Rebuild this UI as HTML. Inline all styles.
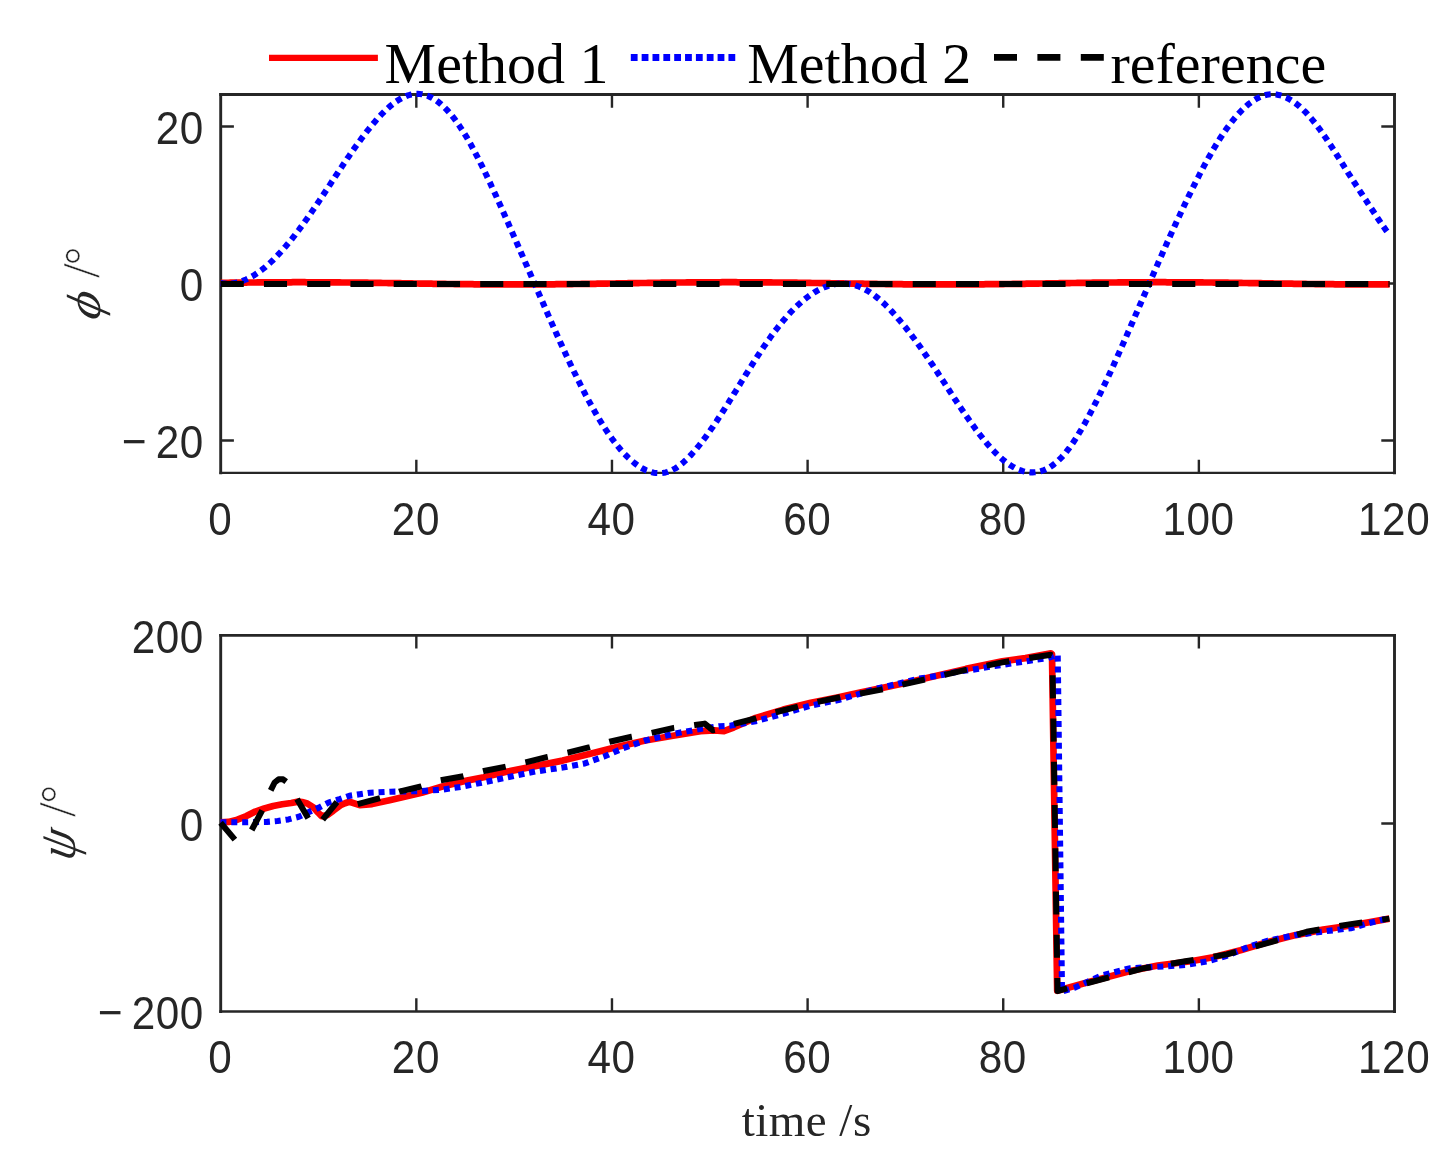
<!DOCTYPE html>
<html lang="en"><head><meta charset="utf-8"><title>Method comparison</title>
<style>html,body{margin:0;padding:0;background:#fff}svg{display:block}</style></head>
<body>
<svg width="1451" height="1155" viewBox="0 0 1451 1155">
<rect width="1451" height="1155" fill="#fff"/>
<path d="M220.70 94.50 V472.90 M1394.50 94.50 V472.90" fill="none" stroke="#262626" stroke-width="2.9" stroke-linecap="square"/>
<path d="M220.70 94.50 H1394.50" fill="none" stroke="#262626" stroke-width="2.8" stroke-linecap="square"/>
<path d="M220.70 472.90 H1394.50" fill="none" stroke="#262626" stroke-width="2.3" stroke-linecap="square"/>
<path d="M220.70 635.40 V1011.50 M1394.50 635.40 V1011.50" fill="none" stroke="#262626" stroke-width="2.9" stroke-linecap="square"/>
<path d="M220.70 635.40 H1394.50" fill="none" stroke="#262626" stroke-width="2.8" stroke-linecap="square"/>
<path d="M220.70 1011.50 H1394.50" fill="none" stroke="#262626" stroke-width="2.7" stroke-linecap="square"/>
<path d="M416.33 472.90 v-13.20 M416.33 94.50 v13.20 M416.33 1011.50 v-13.20 M416.33 635.40 v13.20 M611.97 472.90 v-13.20 M611.97 94.50 v13.20 M611.97 1011.50 v-13.20 M611.97 635.40 v13.20 M807.60 472.90 v-13.20 M807.60 94.50 v13.20 M807.60 1011.50 v-13.20 M807.60 635.40 v13.20 M1003.23 472.90 v-13.20 M1003.23 94.50 v13.20 M1003.23 1011.50 v-13.20 M1003.23 635.40 v13.20 M1198.87 472.90 v-13.20 M1198.87 94.50 v13.20 M1198.87 1011.50 v-13.20 M1198.87 635.40 v13.20 M220.70 440.50 h13.20 M1394.50 440.50 h-13.20 M220.70 283.50 h13.20 M1394.50 283.50 h-13.20 M220.70 126.50 h13.20 M1394.50 126.50 h-13.20 M220.70 823.45 h13.20 M1394.50 823.45 h-13.20" fill="none" stroke="#262626" stroke-width="2.4"/>
<path d="M220.7 282.9 L222.7 282.9 L224.6 282.8 L226.6 282.8 L228.5 282.8 L230.5 282.7 L232.4 282.7 L234.4 282.7 L236.3 282.7 L238.3 282.6 L240.2 282.6 L242.2 282.6 L244.1 282.6 L246.1 282.6 L248.0 282.5 L250.0 282.5 L251.9 282.5 L253.9 282.5 L255.8 282.5 L257.8 282.4 L259.7 282.4 L261.7 282.4 L263.6 282.4 L265.6 282.4 L267.5 282.4 L269.5 282.3 L271.4 282.3 L273.4 282.3 L275.3 282.3 L277.3 282.3 L279.2 282.3 L281.2 282.3 L283.1 282.3 L285.1 282.3 L287.0 282.3 L289.0 282.3 L291.0 282.3 L292.9 282.2 L294.9 282.2 L296.8 282.2 L298.8 282.2 L300.7 282.2 L302.7 282.2 L304.6 282.2 L306.6 282.3 L308.5 282.3 L310.5 282.3 L312.4 282.3 L314.4 282.3 L316.3 282.3 L318.3 282.3 L320.2 282.3 L322.2 282.3 L324.1 282.3 L326.1 282.3 L328.0 282.3 L330.0 282.4 L331.9 282.4 L333.9 282.4 L335.8 282.4 L337.8 282.4 L339.7 282.4 L341.7 282.5 L343.6 282.5 L345.6 282.5 L347.5 282.5 L349.5 282.5 L351.4 282.6 L353.4 282.6 L355.3 282.6 L357.3 282.6 L359.3 282.6 L361.2 282.7 L363.2 282.7 L365.1 282.7 L367.1 282.7 L369.0 282.8 L371.0 282.8 L372.9 282.8 L374.9 282.9 L376.8 282.9 L378.8 282.9 L380.7 282.9 L382.7 283.0 L384.6 283.0 L386.6 283.0 L388.5 283.1 L390.5 283.1 L392.4 283.1 L394.4 283.1 L396.3 283.2 L398.3 283.2 L400.2 283.2 L402.2 283.3 L404.1 283.3 L406.1 283.3 L408.0 283.4 L410.0 283.4 L411.9 283.4 L413.9 283.5 L415.8 283.5 L417.8 283.5 L419.7 283.6 L421.7 283.6 L423.6 283.6 L425.6 283.6 L427.6 283.7 L429.5 283.7 L431.5 283.7 L433.4 283.8 L435.4 283.8 L437.3 283.8 L439.3 283.8 L441.2 283.9 L443.2 283.9 L445.1 283.9 L447.1 284.0 L449.0 284.0 L451.0 284.0 L452.9 284.0 L454.9 284.1 L456.8 284.1 L458.8 284.1 L460.7 284.1 L462.7 284.1 L464.6 284.2 L466.6 284.2 L468.5 284.2 L470.5 284.2 L472.4 284.2 L474.4 284.3 L476.3 284.3 L478.3 284.3 L480.2 284.3 L482.2 284.3 L484.1 284.3 L486.1 284.4 L488.0 284.4 L490.0 284.4 L491.9 284.4 L493.9 284.4 L495.9 284.4 L497.8 284.4 L499.8 284.4 L501.7 284.4 L503.7 284.4 L505.6 284.4 L507.6 284.4 L509.5 284.4 L511.5 284.4 L513.4 284.4 L515.4 284.4 L517.3 284.4 L519.3 284.4 L521.2 284.4 L523.2 284.4 L525.1 284.4 L527.1 284.4 L529.0 284.4 L531.0 284.4 L532.9 284.4 L534.9 284.4 L536.8 284.4 L538.8 284.4 L540.7 284.4 L542.7 284.3 L544.6 284.3 L546.6 284.3 L548.5 284.3 L550.5 284.3 L552.4 284.3 L554.4 284.3 L556.3 284.2 L558.3 284.2 L560.2 284.2 L562.2 284.2 L564.2 284.2 L566.1 284.1 L568.1 284.1 L570.0 284.1 L572.0 284.1 L573.9 284.0 L575.9 284.0 L577.8 284.0 L579.8 284.0 L581.7 283.9 L583.7 283.9 L585.6 283.9 L587.6 283.9 L589.5 283.8 L591.5 283.8 L593.4 283.8 L595.4 283.8 L597.3 283.7 L599.3 283.7 L601.2 283.7 L603.2 283.6 L605.1 283.6 L607.1 283.6 L609.0 283.5 L611.0 283.5 L612.9 283.5 L614.9 283.5 L616.8 283.4 L618.8 283.4 L620.7 283.4 L622.7 283.3 L624.6 283.3 L626.6 283.3 L628.5 283.2 L630.5 283.2 L632.5 283.2 L634.4 283.1 L636.4 283.1 L638.3 283.1 L640.3 283.0 L642.2 283.0 L644.2 283.0 L646.1 283.0 L648.1 282.9 L650.0 282.9 L652.0 282.9 L653.9 282.8 L655.9 282.8 L657.8 282.8 L659.8 282.8 L661.7 282.7 L663.7 282.7 L665.6 282.7 L667.6 282.7 L669.5 282.6 L671.5 282.6 L673.4 282.6 L675.4 282.6 L677.3 282.5 L679.3 282.5 L681.2 282.5 L683.2 282.5 L685.1 282.5 L687.1 282.4 L689.0 282.4 L691.0 282.4 L692.9 282.4 L694.9 282.4 L696.8 282.4 L698.8 282.4 L700.8 282.3 L702.7 282.3 L704.7 282.3 L706.6 282.3 L708.6 282.3 L710.5 282.3 L712.5 282.3 L714.4 282.3 L716.4 282.3 L718.3 282.3 L720.3 282.3 L722.2 282.2 L724.2 282.2 L726.1 282.2 L728.1 282.2 L730.0 282.2 L732.0 282.2 L733.9 282.2 L735.9 282.2 L737.8 282.3 L739.8 282.3 L741.7 282.3 L743.7 282.3 L745.6 282.3 L747.6 282.3 L749.5 282.3 L751.5 282.3 L753.4 282.3 L755.4 282.3 L757.3 282.3 L759.3 282.3 L761.2 282.4 L763.2 282.4 L765.2 282.4 L767.1 282.4 L769.1 282.4 L771.0 282.4 L773.0 282.5 L774.9 282.5 L776.9 282.5 L778.8 282.5 L780.8 282.5 L782.7 282.6 L784.7 282.6 L786.6 282.6 L788.6 282.6 L790.5 282.7 L792.5 282.7 L794.4 282.7 L796.4 282.7 L798.3 282.8 L800.3 282.8 L802.2 282.8 L804.2 282.8 L806.1 282.9 L808.1 282.9 L810.0 282.9 L812.0 283.0 L813.9 283.0 L815.9 283.0 L817.8 283.0 L819.8 283.1 L821.7 283.1 L823.7 283.1 L825.6 283.2 L827.6 283.2 L829.5 283.2 L831.5 283.3 L833.5 283.3 L835.4 283.3 L837.4 283.3 L839.3 283.4 L841.3 283.4 L843.2 283.4 L845.2 283.5 L847.1 283.5 L849.1 283.5 L851.0 283.6 L853.0 283.6 L854.9 283.6 L856.9 283.7 L858.8 283.7 L860.8 283.7 L862.7 283.7 L864.7 283.8 L866.6 283.8 L868.6 283.8 L870.5 283.9 L872.5 283.9 L874.4 283.9 L876.4 283.9 L878.3 284.0 L880.3 284.0 L882.2 284.0 L884.2 284.0 L886.1 284.1 L888.1 284.1 L890.0 284.1 L892.0 284.1 L893.9 284.2 L895.9 284.2 L897.8 284.2 L899.8 284.2 L901.8 284.2 L903.7 284.3 L905.7 284.3 L907.6 284.3 L909.6 284.3 L911.5 284.3 L913.5 284.3 L915.4 284.3 L917.4 284.4 L919.3 284.4 L921.3 284.4 L923.2 284.4 L925.2 284.4 L927.1 284.4 L929.1 284.4 L931.0 284.4 L933.0 284.4 L934.9 284.4 L936.9 284.4 L938.8 284.4 L940.8 284.4 L942.7 284.4 L944.7 284.4 L946.6 284.4 L948.6 284.4 L950.5 284.4 L952.5 284.4 L954.4 284.4 L956.4 284.4 L958.3 284.4 L960.3 284.4 L962.2 284.4 L964.2 284.4 L966.1 284.4 L968.1 284.4 L970.1 284.4 L972.0 284.4 L974.0 284.3 L975.9 284.3 L977.9 284.3 L979.8 284.3 L981.8 284.3 L983.7 284.3 L985.7 284.2 L987.6 284.2 L989.6 284.2 L991.5 284.2 L993.5 284.2 L995.4 284.2 L997.4 284.1 L999.3 284.1 L1001.3 284.1 L1003.2 284.1 L1005.2 284.0 L1007.1 284.0 L1009.1 284.0 L1011.0 284.0 L1013.0 283.9 L1014.9 283.9 L1016.9 283.9 L1018.8 283.9 L1020.8 283.8 L1022.7 283.8 L1024.7 283.8 L1026.6 283.7 L1028.6 283.7 L1030.5 283.7 L1032.5 283.7 L1034.4 283.6 L1036.4 283.6 L1038.4 283.6 L1040.3 283.5 L1042.3 283.5 L1044.2 283.5 L1046.2 283.4 L1048.1 283.4 L1050.1 283.4 L1052.0 283.3 L1054.0 283.3 L1055.9 283.3 L1057.9 283.3 L1059.8 283.2 L1061.8 283.2 L1063.7 283.2 L1065.7 283.1 L1067.6 283.1 L1069.6 283.1 L1071.5 283.0 L1073.5 283.0 L1075.4 283.0 L1077.4 282.9 L1079.3 282.9 L1081.3 282.9 L1083.2 282.9 L1085.2 282.8 L1087.1 282.8 L1089.1 282.8 L1091.0 282.8 L1093.0 282.7 L1094.9 282.7 L1096.9 282.7 L1098.8 282.7 L1100.8 282.6 L1102.7 282.6 L1104.7 282.6 L1106.7 282.6 L1108.6 282.5 L1110.6 282.5 L1112.5 282.5 L1114.5 282.5 L1116.4 282.5 L1118.4 282.4 L1120.3 282.4 L1122.3 282.4 L1124.2 282.4 L1126.2 282.4 L1128.1 282.4 L1130.1 282.3 L1132.0 282.3 L1134.0 282.3 L1135.9 282.3 L1137.9 282.3 L1139.8 282.3 L1141.8 282.3 L1143.7 282.3 L1145.7 282.3 L1147.6 282.3 L1149.6 282.3 L1151.5 282.3 L1153.5 282.2 L1155.4 282.2 L1157.4 282.2 L1159.3 282.2 L1161.3 282.2 L1163.2 282.2 L1165.2 282.2 L1167.1 282.3 L1169.1 282.3 L1171.0 282.3 L1173.0 282.3 L1175.0 282.3 L1176.9 282.3 L1178.9 282.3 L1180.8 282.3 L1182.8 282.3 L1184.7 282.3 L1186.7 282.3 L1188.6 282.3 L1190.6 282.4 L1192.5 282.4 L1194.5 282.4 L1196.4 282.4 L1198.4 282.4 L1200.3 282.4 L1202.3 282.4 L1204.2 282.5 L1206.2 282.5 L1208.1 282.5 L1210.1 282.5 L1212.0 282.5 L1214.0 282.6 L1215.9 282.6 L1217.9 282.6 L1219.8 282.6 L1221.8 282.7 L1223.7 282.7 L1225.7 282.7 L1227.6 282.7 L1229.6 282.8 L1231.5 282.8 L1233.5 282.8 L1235.4 282.8 L1237.4 282.9 L1239.3 282.9 L1241.3 282.9 L1243.3 283.0 L1245.2 283.0 L1247.2 283.0 L1249.1 283.1 L1251.1 283.1 L1253.0 283.1 L1255.0 283.1 L1256.9 283.2 L1258.9 283.2 L1260.8 283.2 L1262.8 283.3 L1264.7 283.3 L1266.7 283.3 L1268.6 283.4 L1270.6 283.4 L1272.5 283.4 L1274.5 283.5 L1276.4 283.5 L1278.4 283.5 L1280.3 283.6 L1282.3 283.6 L1284.2 283.6 L1286.2 283.6 L1288.1 283.7 L1290.1 283.7 L1292.0 283.7 L1294.0 283.8 L1295.9 283.8 L1297.9 283.8 L1299.8 283.8 L1301.8 283.9 L1303.7 283.9 L1305.7 283.9 L1307.6 284.0 L1309.6 284.0 L1311.6 284.0 L1313.5 284.0 L1315.5 284.1 L1317.4 284.1 L1319.4 284.1 L1321.3 284.1 L1323.3 284.1 L1325.2 284.2 L1327.2 284.2 L1329.1 284.2 L1331.1 284.2 L1333.0 284.2 L1335.0 284.3 L1336.9 284.3 L1338.9 284.3 L1340.8 284.3 L1342.8 284.3 L1344.7 284.3 L1346.7 284.3 L1348.6 284.4 L1350.6 284.4 L1352.5 284.4 L1354.5 284.4 L1356.4 284.4 L1358.4 284.4 L1360.3 284.4 L1362.3 284.4 L1364.2 284.4 L1366.2 284.4 L1368.1 284.4 L1370.1 284.4 L1372.0 284.4 L1374.0 284.4 L1375.9 284.4 L1377.9 284.4 L1379.9 284.4 L1381.8 284.4 L1383.8 284.4 L1385.7 284.4 L1387.7 284.4 L1389.6 284.4" fill="none" stroke="#ff0000" stroke-width="6.7" stroke-linejoin="round"/>
<path d="M220.7 283.0 L222.7 283.3 L224.6 283.5 L226.6 283.7 L228.5 283.7 L230.5 283.6 L232.4 283.4 L234.4 283.1 L236.3 282.7 L238.3 282.3 L240.2 281.7 L242.2 281.1 L244.1 280.3 L246.1 279.5 L248.0 278.6 L250.0 277.6 L251.9 276.5 L253.9 275.4 L255.8 274.1 L257.8 272.8 L259.7 271.4 L261.7 269.9 L263.6 268.4 L265.6 266.8 L267.5 265.1 L269.5 263.4 L271.4 261.6 L273.4 259.7 L275.3 257.7 L277.3 255.7 L279.2 253.7 L281.2 251.5 L283.1 249.4 L285.1 247.1 L287.0 244.8 L289.0 242.5 L291.0 240.1 L292.9 237.7 L294.9 235.2 L296.8 232.6 L298.8 230.0 L300.7 227.4 L302.7 224.8 L304.6 222.1 L306.6 219.3 L308.5 216.5 L310.5 213.7 L312.4 210.9 L314.4 208.0 L316.3 205.2 L318.3 202.3 L320.2 199.4 L322.2 196.4 L324.1 193.5 L326.1 190.5 L328.0 187.6 L330.0 184.6 L331.9 181.6 L333.9 178.7 L335.8 175.7 L337.8 172.8 L339.7 169.8 L341.7 166.9 L343.6 164.0 L345.6 161.1 L347.5 158.2 L349.5 155.4 L351.4 152.6 L353.4 149.8 L355.3 147.0 L357.3 144.3 L359.3 141.6 L361.2 138.9 L363.2 136.3 L365.1 133.7 L367.1 131.2 L369.0 128.8 L371.0 126.3 L372.9 124.0 L374.9 121.7 L376.8 119.4 L378.8 117.3 L380.7 115.2 L382.7 113.2 L384.6 111.2 L386.6 109.4 L388.5 107.6 L390.5 105.9 L392.4 104.3 L394.4 102.8 L396.3 101.4 L398.3 100.1 L400.2 99.0 L402.2 97.9 L404.1 97.0 L406.1 96.1 L408.0 95.4 L410.0 94.8 L411.9 94.4 L413.9 94.1 L415.8 93.9 L417.8 93.9 L419.7 94.0 L421.7 94.2 L423.6 94.6 L425.6 95.2 L427.6 95.8 L429.5 96.7 L431.5 97.6 L433.4 98.7 L435.4 99.9 L437.3 101.3 L439.3 102.8 L441.2 104.4 L443.2 106.2 L445.1 108.1 L447.1 110.1 L449.0 112.2 L451.0 114.5 L452.9 116.9 L454.9 119.4 L456.8 122.1 L458.8 124.9 L460.7 127.8 L462.7 130.8 L464.6 133.9 L466.6 137.1 L468.5 140.5 L470.5 143.9 L472.4 147.5 L474.4 151.1 L476.3 154.8 L478.3 158.6 L480.2 162.5 L482.2 166.4 L484.1 170.4 L486.1 174.5 L488.0 178.6 L490.0 182.7 L491.9 187.0 L493.9 191.2 L495.9 195.5 L497.8 199.8 L499.8 204.2 L501.7 208.6 L503.7 213.0 L505.6 217.4 L507.6 221.8 L509.5 226.2 L511.5 230.7 L513.4 235.1 L515.4 239.6 L517.3 244.0 L519.3 248.5 L521.2 253.0 L523.2 257.5 L525.1 262.0 L527.1 266.4 L529.0 270.9 L531.0 275.4 L532.9 279.9 L534.9 284.4 L536.8 288.9 L538.8 293.4 L540.7 297.9 L542.7 302.3 L544.6 306.8 L546.6 311.3 L548.5 315.7 L550.5 320.2 L552.4 324.6 L554.4 329.0 L556.3 333.4 L558.3 337.7 L560.2 342.1 L562.2 346.4 L564.2 350.7 L566.1 354.9 L568.1 359.1 L570.0 363.3 L572.0 367.4 L573.9 371.5 L575.9 375.5 L577.8 379.5 L579.8 383.4 L581.7 387.3 L583.7 391.1 L585.6 394.9 L587.6 398.6 L589.5 402.2 L591.5 405.8 L593.4 409.2 L595.4 412.7 L597.3 416.0 L599.3 419.3 L601.2 422.5 L603.2 425.6 L605.1 428.6 L607.1 431.6 L609.0 434.4 L611.0 437.2 L612.9 439.9 L614.9 442.5 L616.8 445.0 L618.8 447.4 L620.7 449.7 L622.7 451.9 L624.6 454.0 L626.6 456.0 L628.5 457.9 L630.5 459.7 L632.5 461.4 L634.4 463.0 L636.4 464.5 L638.3 465.9 L640.3 467.2 L642.2 468.3 L644.2 469.3 L646.1 470.3 L648.1 471.0 L650.0 471.7 L652.0 472.3 L653.9 472.7 L655.9 473.0 L657.8 473.1 L659.8 473.1 L661.7 473.0 L663.7 472.8 L665.6 472.4 L667.6 471.9 L669.5 471.2 L671.5 470.4 L673.4 469.4 L675.4 468.3 L677.3 467.1 L679.3 465.7 L681.2 464.2 L683.2 462.6 L685.1 460.8 L687.1 459.0 L689.0 457.0 L691.0 455.0 L692.9 452.8 L694.9 450.6 L696.8 448.3 L698.8 445.9 L700.8 443.4 L702.7 440.8 L704.7 438.2 L706.6 435.6 L708.6 432.9 L710.5 430.1 L712.5 427.3 L714.4 424.4 L716.4 421.5 L718.3 418.5 L720.3 415.5 L722.2 412.5 L724.2 409.5 L726.1 406.4 L728.1 403.3 L730.0 400.2 L732.0 397.1 L733.9 393.9 L735.9 390.8 L737.8 387.6 L739.8 384.5 L741.7 381.3 L743.7 378.2 L745.6 375.0 L747.6 371.9 L749.5 368.8 L751.5 365.7 L753.4 362.6 L755.4 359.5 L757.3 356.5 L759.3 353.5 L761.2 350.6 L763.2 347.6 L765.2 344.8 L767.1 341.9 L769.1 339.2 L771.0 336.4 L773.0 333.7 L774.9 331.1 L776.9 328.6 L778.8 326.1 L780.8 323.6 L782.7 321.3 L784.7 319.0 L786.6 316.7 L788.6 314.5 L790.5 312.4 L792.5 310.4 L794.4 308.4 L796.4 306.5 L798.3 304.7 L800.3 302.9 L802.2 301.2 L804.2 299.6 L806.1 298.1 L808.1 296.6 L810.0 295.2 L812.0 293.9 L813.9 292.6 L815.9 291.5 L817.8 290.4 L819.8 289.3 L821.7 288.4 L823.7 287.5 L825.6 286.8 L827.6 286.1 L829.5 285.5 L831.5 284.9 L833.5 284.5 L835.4 284.1 L837.4 283.8 L839.3 283.6 L841.3 283.5 L843.2 283.5 L845.2 283.6 L847.1 283.7 L849.1 284.0 L851.0 284.3 L853.0 284.7 L854.9 285.2 L856.9 285.8 L858.8 286.5 L860.8 287.3 L862.7 288.2 L864.7 289.2 L866.6 290.3 L868.6 291.4 L870.5 292.7 L872.5 294.0 L874.4 295.4 L876.4 297.0 L878.3 298.5 L880.3 300.2 L882.2 301.9 L884.2 303.7 L886.1 305.6 L888.1 307.5 L890.0 309.5 L892.0 311.6 L893.9 313.7 L895.9 315.9 L897.8 318.2 L899.8 320.5 L901.8 322.8 L903.7 325.2 L905.7 327.6 L907.6 330.1 L909.6 332.6 L911.5 335.2 L913.5 337.8 L915.4 340.4 L917.4 343.1 L919.3 345.8 L921.3 348.6 L923.2 351.4 L925.2 354.2 L927.1 357.0 L929.1 359.9 L931.0 362.7 L933.0 365.6 L934.9 368.6 L936.9 371.5 L938.8 374.5 L940.8 377.5 L942.7 380.4 L944.7 383.4 L946.6 386.4 L948.6 389.4 L950.5 392.4 L952.5 395.4 L954.4 398.4 L956.4 401.3 L958.3 404.3 L960.3 407.2 L962.2 410.1 L964.2 413.0 L966.1 415.8 L968.1 418.6 L970.1 421.4 L972.0 424.1 L974.0 426.8 L975.9 429.5 L977.9 432.1 L979.8 434.6 L981.8 437.1 L983.7 439.6 L985.7 441.9 L987.6 444.2 L989.6 446.5 L991.5 448.6 L993.5 450.7 L995.4 452.8 L997.4 454.7 L999.3 456.5 L1001.3 458.3 L1003.2 460.0 L1005.2 461.5 L1007.1 463.0 L1009.1 464.4 L1011.0 465.7 L1013.0 466.8 L1014.9 467.9 L1016.9 468.9 L1018.8 469.7 L1020.8 470.4 L1022.7 471.1 L1024.7 471.6 L1026.6 472.0 L1028.6 472.2 L1030.5 472.4 L1032.5 472.4 L1034.4 472.3 L1036.4 472.1 L1038.4 471.8 L1040.3 471.3 L1042.3 470.7 L1044.2 470.0 L1046.2 469.1 L1048.1 468.1 L1050.1 467.0 L1052.0 465.7 L1054.0 464.2 L1055.9 462.7 L1057.9 461.0 L1059.8 459.1 L1061.8 457.1 L1063.7 455.0 L1065.7 452.7 L1067.6 450.2 L1069.6 447.6 L1071.5 444.9 L1073.5 442.0 L1075.4 439.1 L1077.4 436.0 L1079.3 432.8 L1081.3 429.5 L1083.2 426.1 L1085.2 422.7 L1087.1 419.1 L1089.1 415.5 L1091.0 411.8 L1093.0 408.0 L1094.9 404.2 L1096.9 400.3 L1098.8 396.3 L1100.8 392.3 L1102.7 388.3 L1104.7 384.2 L1106.7 380.0 L1108.6 375.9 L1110.6 371.6 L1112.5 367.4 L1114.5 363.1 L1116.4 358.7 L1118.4 354.4 L1120.3 350.0 L1122.3 345.6 L1124.2 341.2 L1126.2 336.7 L1128.1 332.2 L1130.1 327.8 L1132.0 323.3 L1134.0 318.8 L1135.9 314.2 L1137.9 309.7 L1139.8 305.2 L1141.8 300.7 L1143.7 296.2 L1145.7 291.7 L1147.6 287.2 L1149.6 282.7 L1151.5 278.2 L1153.5 273.7 L1155.4 269.2 L1157.4 264.8 L1159.3 260.3 L1161.3 255.9 L1163.2 251.5 L1165.2 247.1 L1167.1 242.7 L1169.1 238.3 L1171.0 234.0 L1173.0 229.7 L1175.0 225.4 L1176.9 221.2 L1178.9 217.0 L1180.8 212.8 L1182.8 208.6 L1184.7 204.5 L1186.7 200.4 L1188.6 196.4 L1190.6 192.4 L1192.5 188.4 L1194.5 184.5 L1196.4 180.6 L1198.4 176.8 L1200.3 173.0 L1202.3 169.3 L1204.2 165.7 L1206.2 162.1 L1208.1 158.5 L1210.1 155.1 L1212.0 151.7 L1214.0 148.3 L1215.9 145.1 L1217.9 141.9 L1219.8 138.8 L1221.8 135.8 L1223.7 132.9 L1225.7 130.0 L1227.6 127.3 L1229.6 124.7 L1231.5 122.1 L1233.5 119.6 L1235.4 117.3 L1237.4 115.0 L1239.3 112.9 L1241.3 110.8 L1243.3 108.9 L1245.2 107.1 L1247.2 105.3 L1249.1 103.7 L1251.1 102.3 L1253.0 100.9 L1255.0 99.7 L1256.9 98.5 L1258.9 97.5 L1260.8 96.7 L1262.8 95.9 L1264.7 95.3 L1266.7 94.8 L1268.6 94.5 L1270.6 94.3 L1272.5 94.2 L1274.5 94.3 L1276.4 94.5 L1278.4 94.9 L1280.3 95.3 L1282.3 95.9 L1284.2 96.7 L1286.2 97.5 L1288.1 98.5 L1290.1 99.6 L1292.0 100.8 L1294.0 102.1 L1295.9 103.5 L1297.9 105.1 L1299.8 106.7 L1301.8 108.5 L1303.7 110.4 L1305.7 112.3 L1307.6 114.4 L1309.6 116.6 L1311.6 118.9 L1313.5 121.2 L1315.5 123.7 L1317.4 126.2 L1319.4 128.8 L1321.3 131.5 L1323.3 134.3 L1325.2 137.1 L1327.2 140.0 L1329.1 142.9 L1331.1 145.9 L1333.0 148.9 L1335.0 152.0 L1336.9 155.0 L1338.9 158.1 L1340.8 161.2 L1342.8 164.3 L1344.7 167.4 L1346.7 170.5 L1348.6 173.6 L1350.6 176.7 L1352.5 179.7 L1354.5 182.7 L1356.4 185.7 L1358.4 188.7 L1360.3 191.7 L1362.3 194.7 L1364.2 197.7 L1366.2 200.6 L1368.1 203.6 L1370.1 206.6 L1372.0 209.5 L1374.0 212.5 L1375.9 215.5 L1377.9 218.5 L1379.9 221.4 L1381.8 224.3 L1383.8 227.1 L1385.7 229.8 L1387.7 232.4 L1389.6 234.9" fill="none" stroke="#0000ff" stroke-width="6.1" stroke-dasharray="6.0 4.88" stroke-linejoin="round"/>
<path d="M220.7 283.9 L222.7 283.9 L224.6 283.9 L226.6 283.9 L228.5 283.9 L230.5 283.9 L232.4 283.9 L234.4 283.9 L236.3 283.9 L238.3 283.9 L240.2 283.9 L242.2 283.9 L244.1 283.9 L246.1 283.9 L248.0 283.9 L250.0 283.9 L251.9 283.9 L253.9 283.9 L255.8 283.9 L257.8 283.9 L259.7 283.9 L261.7 283.9 L263.6 283.9 L265.6 283.9 L267.5 283.9 L269.5 283.9 L271.4 283.9 L273.4 283.9 L275.3 283.9 L277.3 283.9 L279.2 283.9 L281.2 283.9 L283.1 283.9 L285.1 283.9 L287.0 283.9 L289.0 283.9 L291.0 283.9 L292.9 283.9 L294.9 283.9 L296.8 283.9 L298.8 283.9 L300.7 283.9 L302.7 283.9 L304.6 283.9 L306.6 283.9 L308.5 283.9 L310.5 283.9 L312.4 283.9 L314.4 283.9 L316.3 283.9 L318.3 283.9 L320.2 283.9 L322.2 283.9 L324.1 283.9 L326.1 283.9 L328.0 283.9 L330.0 283.9 L331.9 283.9 L333.9 283.9 L335.8 283.9 L337.8 283.9 L339.7 283.9 L341.7 283.9 L343.6 283.9 L345.6 283.9 L347.5 283.9 L349.5 283.9 L351.4 283.9 L353.4 283.9 L355.3 283.9 L357.3 283.9 L359.3 283.9 L361.2 283.9 L363.2 283.9 L365.1 283.9 L367.1 283.9 L369.0 283.9 L371.0 283.9 L372.9 283.9 L374.9 283.9 L376.8 283.9 L378.8 283.9 L380.7 283.9 L382.7 283.9 L384.6 283.9 L386.6 283.9 L388.5 283.9 L390.5 283.9 L392.4 283.9 L394.4 283.9 L396.3 283.9 L398.3 283.9 L400.2 283.9 L402.2 283.9 L404.1 283.9 L406.1 283.9 L408.0 283.9 L410.0 283.9 L411.9 283.9 L413.9 283.9 L415.8 283.9 L417.8 283.9 L419.7 283.9 L421.7 283.9 L423.6 283.9 L425.6 283.9 L427.6 283.9 L429.5 283.9 L431.5 283.9 L433.4 283.9 L435.4 283.9 L437.3 283.9 L439.3 283.9 L441.2 283.9 L443.2 283.9 L445.1 283.9 L447.1 283.9 L449.0 283.9 L451.0 283.9 L452.9 283.9 L454.9 283.9 L456.8 283.9 L458.8 283.9 L460.7 283.9 L462.7 283.9 L464.6 283.9 L466.6 283.9 L468.5 283.9 L470.5 283.9 L472.4 283.9 L474.4 283.9 L476.3 283.9 L478.3 283.9 L480.2 283.9 L482.2 283.9 L484.1 283.9 L486.1 283.9 L488.0 283.9 L490.0 283.9 L491.9 283.9 L493.9 283.9 L495.9 283.9 L497.8 283.9 L499.8 283.9 L501.7 283.9 L503.7 283.9 L505.6 283.9 L507.6 283.9 L509.5 283.9 L511.5 283.9 L513.4 283.9 L515.4 283.9 L517.3 283.9 L519.3 283.9 L521.2 283.9 L523.2 283.9 L525.1 283.9 L527.1 283.9 L529.0 283.9 L531.0 283.9 L532.9 283.9 L534.9 283.9 L536.8 283.9 L538.8 283.9 L540.7 283.9 L542.7 283.9 L544.6 283.9 L546.6 283.9 L548.5 283.9 L550.5 283.9 L552.4 283.9 L554.4 283.9 L556.3 283.9 L558.3 283.9 L560.2 283.9 L562.2 283.9 L564.2 283.9 L566.1 283.9 L568.1 283.9 L570.0 283.9 L572.0 283.9 L573.9 283.9 L575.9 283.9 L577.8 283.9 L579.8 283.9 L581.7 283.9 L583.7 283.9 L585.6 283.9 L587.6 283.9 L589.5 283.9 L591.5 283.9 L593.4 283.9 L595.4 283.9 L597.3 283.9 L599.3 283.9 L601.2 283.9 L603.2 283.9 L605.1 283.9 L607.1 283.9 L609.0 283.9 L611.0 283.9 L612.9 283.9 L614.9 283.9 L616.8 283.9 L618.8 283.9 L620.7 283.9 L622.7 283.9 L624.6 283.9 L626.6 283.9 L628.5 283.9 L630.5 283.9 L632.5 283.9 L634.4 283.9 L636.4 283.9 L638.3 283.9 L640.3 283.9 L642.2 283.9 L644.2 283.9 L646.1 283.9 L648.1 283.9 L650.0 283.9 L652.0 283.9 L653.9 283.9 L655.9 283.9 L657.8 283.9 L659.8 283.9 L661.7 283.9 L663.7 283.9 L665.6 283.9 L667.6 283.9 L669.5 283.9 L671.5 283.9 L673.4 283.9 L675.4 283.9 L677.3 283.9 L679.3 283.9 L681.2 283.9 L683.2 283.9 L685.1 283.9 L687.1 283.9 L689.0 283.9 L691.0 283.9 L692.9 283.9 L694.9 283.9 L696.8 283.9 L698.8 283.9 L700.8 283.9 L702.7 283.9 L704.7 283.9 L706.6 283.9 L708.6 283.9 L710.5 283.9 L712.5 283.9 L714.4 283.9 L716.4 283.9 L718.3 283.9 L720.3 283.9 L722.2 283.9 L724.2 283.9 L726.1 283.9 L728.1 283.9 L730.0 283.9 L732.0 283.9 L733.9 283.9 L735.9 283.9 L737.8 283.9 L739.8 283.9 L741.7 283.9 L743.7 283.9 L745.6 283.9 L747.6 283.9 L749.5 283.9 L751.5 283.9 L753.4 283.9 L755.4 283.9 L757.3 283.9 L759.3 283.9 L761.2 283.9 L763.2 283.9 L765.2 283.9 L767.1 283.9 L769.1 283.9 L771.0 283.9 L773.0 283.9 L774.9 283.9 L776.9 283.9 L778.8 283.9 L780.8 283.9 L782.7 283.9 L784.7 283.9 L786.6 283.9 L788.6 283.9 L790.5 283.9 L792.5 283.9 L794.4 283.9 L796.4 283.9 L798.3 283.9 L800.3 283.9 L802.2 283.9 L804.2 283.9 L806.1 283.9 L808.1 283.9 L810.0 283.9 L812.0 283.9 L813.9 283.9 L815.9 283.9 L817.8 283.9 L819.8 283.9 L821.7 283.9 L823.7 283.9 L825.6 283.9 L827.6 283.9 L829.5 283.9 L831.5 283.9 L833.5 283.9 L835.4 283.9 L837.4 283.9 L839.3 283.9 L841.3 283.9 L843.2 283.9 L845.2 283.9 L847.1 283.9 L849.1 283.9 L851.0 283.9 L853.0 283.9 L854.9 283.9 L856.9 283.9 L858.8 283.9 L860.8 283.9 L862.7 283.9 L864.7 283.9 L866.6 283.9 L868.6 283.9 L870.5 283.9 L872.5 283.9 L874.4 283.9 L876.4 283.9 L878.3 283.9 L880.3 283.9 L882.2 283.9 L884.2 283.9 L886.1 283.9 L888.1 283.9 L890.0 283.9 L892.0 283.9 L893.9 283.9 L895.9 283.9 L897.8 283.9 L899.8 283.9 L901.8 283.9 L903.7 283.9 L905.7 283.9 L907.6 283.9 L909.6 283.9 L911.5 283.9 L913.5 283.9 L915.4 283.9 L917.4 283.9 L919.3 283.9 L921.3 283.9 L923.2 283.9 L925.2 283.9 L927.1 283.9 L929.1 283.9 L931.0 283.9 L933.0 283.9 L934.9 283.9 L936.9 283.9 L938.8 283.9 L940.8 283.9 L942.7 283.9 L944.7 283.9 L946.6 283.9 L948.6 283.9 L950.5 283.9 L952.5 283.9 L954.4 283.9 L956.4 283.9 L958.3 283.9 L960.3 283.9 L962.2 283.9 L964.2 283.9 L966.1 283.9 L968.1 283.9 L970.1 283.9 L972.0 283.9 L974.0 283.9 L975.9 283.9 L977.9 283.9 L979.8 283.9 L981.8 283.9 L983.7 283.9 L985.7 283.9 L987.6 283.9 L989.6 283.9 L991.5 283.9 L993.5 283.9 L995.4 283.9 L997.4 283.9 L999.3 283.9 L1001.3 283.9 L1003.2 283.9 L1005.2 283.9 L1007.1 283.9 L1009.1 283.9 L1011.0 283.9 L1013.0 283.9 L1014.9 283.9 L1016.9 283.9 L1018.8 283.9 L1020.8 283.9 L1022.7 283.9 L1024.7 283.9 L1026.6 283.9 L1028.6 283.9 L1030.5 283.9 L1032.5 283.9 L1034.4 283.9 L1036.4 283.9 L1038.4 283.9 L1040.3 283.9 L1042.3 283.9 L1044.2 283.9 L1046.2 283.9 L1048.1 283.9 L1050.1 283.9 L1052.0 283.9 L1054.0 283.9 L1055.9 283.9 L1057.9 283.9 L1059.8 283.9 L1061.8 283.9 L1063.7 283.9 L1065.7 283.9 L1067.6 283.9 L1069.6 283.9 L1071.5 283.9 L1073.5 283.9 L1075.4 283.9 L1077.4 283.9 L1079.3 283.9 L1081.3 283.9 L1083.2 283.9 L1085.2 283.9 L1087.1 283.9 L1089.1 283.9 L1091.0 283.9 L1093.0 283.9 L1094.9 283.9 L1096.9 283.9 L1098.8 283.9 L1100.8 283.9 L1102.7 283.9 L1104.7 283.9 L1106.7 283.9 L1108.6 283.9 L1110.6 283.9 L1112.5 283.9 L1114.5 283.9 L1116.4 283.9 L1118.4 283.9 L1120.3 283.9 L1122.3 283.9 L1124.2 283.9 L1126.2 283.9 L1128.1 283.9 L1130.1 283.9 L1132.0 283.9 L1134.0 283.9 L1135.9 283.9 L1137.9 283.9 L1139.8 283.9 L1141.8 283.9 L1143.7 283.9 L1145.7 283.9 L1147.6 283.9 L1149.6 283.9 L1151.5 283.9 L1153.5 283.9 L1155.4 283.9 L1157.4 283.9 L1159.3 283.9 L1161.3 283.9 L1163.2 283.9 L1165.2 283.9 L1167.1 283.9 L1169.1 283.9 L1171.0 283.9 L1173.0 283.9 L1175.0 283.9 L1176.9 283.9 L1178.9 283.9 L1180.8 283.9 L1182.8 283.9 L1184.7 283.9 L1186.7 283.9 L1188.6 283.9 L1190.6 283.9 L1192.5 283.9 L1194.5 283.9 L1196.4 283.9 L1198.4 283.9 L1200.3 283.9 L1202.3 283.9 L1204.2 283.9 L1206.2 283.9 L1208.1 283.9 L1210.1 283.9 L1212.0 283.9 L1214.0 283.9 L1215.9 283.9 L1217.9 283.9 L1219.8 283.9 L1221.8 283.9 L1223.7 283.9 L1225.7 283.9 L1227.6 283.9 L1229.6 283.9 L1231.5 283.9 L1233.5 283.9 L1235.4 283.9 L1237.4 283.9 L1239.3 283.9 L1241.3 283.9 L1243.3 283.9 L1245.2 283.9 L1247.2 283.9 L1249.1 283.9 L1251.1 283.9 L1253.0 283.9 L1255.0 283.9 L1256.9 283.9 L1258.9 283.9 L1260.8 283.9 L1262.8 283.9 L1264.7 283.9 L1266.7 283.9 L1268.6 283.9 L1270.6 283.9 L1272.5 283.9 L1274.5 283.9 L1276.4 283.9 L1278.4 283.9 L1280.3 283.9 L1282.3 283.9 L1284.2 283.9 L1286.2 283.9 L1288.1 283.9 L1290.1 283.9 L1292.0 283.9 L1294.0 283.9 L1295.9 283.9 L1297.9 283.9 L1299.8 283.9 L1301.8 283.9 L1303.7 283.9 L1305.7 283.9 L1307.6 283.9 L1309.6 283.9 L1311.6 283.9 L1313.5 283.9 L1315.5 283.9 L1317.4 283.9 L1319.4 283.9 L1321.3 283.9 L1323.3 283.9 L1325.2 283.9 L1327.2 283.9 L1329.1 283.9 L1331.1 283.9 L1333.0 283.9 L1335.0 283.9 L1336.9 283.9 L1338.9 283.9 L1340.8 283.9 L1342.8 283.9 L1344.7 283.9 L1346.7 283.9 L1348.6 283.9 L1350.6 283.9 L1352.5 283.9 L1354.5 283.9 L1356.4 283.9 L1358.4 283.9 L1360.3 283.9 L1362.3 283.9 L1364.2 283.9 L1366.2 283.9 L1368.1 283.9 L1370.1 283.9 L1372.0 283.9 L1374.0 283.9 L1375.9 283.9 L1377.9 283.9 L1379.9 283.9 L1381.8 283.9 L1383.8 283.9 L1385.7 283.9 L1387.7 283.9 L1389.6 283.9" fill="none" stroke="#000000" stroke-width="6.0" stroke-dasharray="23.1 20.15" stroke-linejoin="round"/>
<path d="M220.4 822.3 L228.4 821.9 L237.4 819.7 L246.4 816.1 L255.3 811.6 L264.3 808.5 L273.2 806.0 L282.2 804.3 L291.2 803.0 L298.3 801.6 L302.0 802.0 L307.3 803.5 L313.6 807.6 L318.0 812.5 L321.6 816.1 L327.0 815.2 L333.3 810.7 L340.4 805.3 L345.0 803.2 L349.4 801.8 L359.7 805.1 L372.1 804.1 L390.7 800.0 L421.7 792.7 L442.4 786.5 L463.1 781.4 L483.8 777.2 L507.6 771.6 L535.1 766.1 L562.7 760.6 L590.3 753.7 L617.8 746.8 L645.4 740.5 L673.0 735.8 L700.5 731.1 L714.3 730.3 L724.0 731.1 L733.6 727.5 L755.7 717.9 L783.2 709.6 L810.8 702.7 L838.4 697.2 L860.0 692.6 L899.7 684.2 L934.4 676.3 L965.9 668.9 L1002.2 661.4 L1025.4 658.1 L1051.0 653.4 L1052.0 654.0 L1057.2 990.8 L1088.9 982.0 L1130.3 971.0 L1157.8 965.5 L1190.9 961.3 L1213.0 957.2 L1240.5 950.3 L1268.1 942.0 L1295.7 935.1 L1323.2 929.6 L1350.8 925.5 L1389.4 918.6" fill="none" stroke="#ff0000" stroke-width="6.7" stroke-linejoin="round"/>
<path d="M220.4 822.3 L245.0 822.3 L267.0 821.9 L277.7 821.0 L288.5 819.4 L298.8 816.8 L310.0 811.6 L318.9 807.6 L328.4 802.6 L339.6 799.2 L349.4 795.8 L359.7 794.2 L370.1 792.7 L390.7 791.7 L421.7 791.1 L442.4 789.6 L463.1 786.5 L487.9 781.4 L507.6 777.2 L535.1 771.6 L562.7 767.5 L584.8 763.4 L604.1 756.5 L623.3 748.2 L645.4 740.5 L673.0 733.9 L700.5 728.9 L719.8 726.2 L730.9 725.6 L755.7 721.2 L783.2 713.8 L810.8 705.5 L838.4 700.0 L860.0 693.7 L876.5 688.7 L898.0 683.8 L917.9 678.8 L939.4 675.5 L959.2 671.3 L972.5 669.7 L992.3 666.4 L1013.8 663.1 L1025.4 661.4 L1035.3 659.8 L1046.9 658.4 L1057.7 654.8 L1062.0 991.4 L1075.1 987.5 L1102.7 975.1 L1130.3 968.2 L1157.8 966.8 L1185.4 964.9 L1207.5 961.3 L1226.8 955.8 L1248.8 946.7 L1268.1 940.6 L1295.7 935.1 L1323.2 931.5 L1350.8 928.2 L1367.3 923.6 L1389.4 918.0" fill="none" stroke="#0000ff" stroke-width="6.1" stroke-dasharray="6.0 4.88" stroke-linejoin="round"/>
<path d="M220.6 822.8 L234.9 839.6 M251.7 830.0 L262.2 810.4 M270.7 790.3 L274.6 782.5 L278.6 779.3 L283.1 779.3 L286.2 781.6 M297.0 798.9 L308.2 818.3 M322.7 819.7 L337.0 802.0" fill="none" stroke="#000" stroke-width="6.0" stroke-linejoin="round"/>
<path d="M357.7 804.2 L380.4 798.1 L399.2 791.7 L420.9 786.5 L440.5 780.3 L463.3 776.2 L483.9 771.0 L504.6 766.9 L525.5 762.4 L547.5 756.9 L567.7 752.7 L589.7 747.2 L609.6 741.7 L631.6 736.7 L651.5 732.9 L673.8 727.9 L695.0 725.0 L704.7 723.6 L713.0 730.3 L724.0 728.0 L733.6 724.0 L755.7 718.4 L775.0 712.4 L797.0 706.9 L817.7 701.9 L839.7 697.2 L860.4 693.5 L880.0 689.9 L899.7 685.2 L934.4 677.3 L965.9 669.9 L1002.2 662.4 L1025.4 658.6 L1051.0 654.8 L1052.3 655.5 L1057.5 991.0 L1086.2 983.4 L1144.0 968.2 L1185.4 961.3 L1226.8 954.4 L1268.1 942.9 L1306.7 931.8 L1350.8 924.1 L1389.4 918.6" fill="none" stroke="#000000" stroke-width="6.0" stroke-dasharray="23.1 20.15" stroke-linejoin="round"/>
<g font-family="'Liberation Sans', Arial, sans-serif" font-size="44" fill="#262626" letter-spacing="0.6">
<text transform="translate(220.3 535.0) scale(0.96 1.033)" text-anchor="middle">0</text>
<text transform="translate(220.3 1072.8) scale(0.96 1.033)" text-anchor="middle">0</text>
<text transform="translate(415.9 535.0) scale(0.96 1.033)" text-anchor="middle">20</text>
<text transform="translate(415.9 1072.8) scale(0.96 1.033)" text-anchor="middle">20</text>
<text transform="translate(611.6 535.0) scale(0.96 1.033)" text-anchor="middle">40</text>
<text transform="translate(611.6 1072.8) scale(0.96 1.033)" text-anchor="middle">40</text>
<text transform="translate(807.2 535.0) scale(0.96 1.033)" text-anchor="middle">60</text>
<text transform="translate(807.2 1072.8) scale(0.96 1.033)" text-anchor="middle">60</text>
<text transform="translate(1002.8 535.0) scale(0.96 1.033)" text-anchor="middle">80</text>
<text transform="translate(1002.8 1072.8) scale(0.96 1.033)" text-anchor="middle">80</text>
<text transform="translate(1198.5 535.0) scale(0.96 1.033)" text-anchor="middle">100</text>
<text transform="translate(1198.5 1072.8) scale(0.96 1.033)" text-anchor="middle">100</text>
<text transform="translate(1394.1 535.0) scale(0.96 1.033)" text-anchor="middle">120</text>
<text transform="translate(1394.1 1072.8) scale(0.96 1.033)" text-anchor="middle">120</text>
<text transform="translate(203.9 458.4) scale(0.96 1.033)" text-anchor="end"><tspan dy="-1.2">−</tspan><tspan dx="8.9" dy="1.2">20</tspan></text>
<text transform="translate(203.9 301.4) scale(0.96 1.033)" text-anchor="end">0</text>
<text transform="translate(203.9 144.4) scale(0.96 1.033)" text-anchor="end">20</text>
<text transform="translate(203.9 1029.4) scale(0.96 1.033)" text-anchor="end"><tspan dy="-1.2">−</tspan><tspan dx="8.9" dy="1.2">200</tspan></text>
<text transform="translate(203.9 841.4) scale(0.96 1.033)" text-anchor="end">0</text>
<text transform="translate(203.9 653.3) scale(0.96 1.033)" text-anchor="end">200</text>
</g>
<path d="M269 57.8 H377.9" fill="none" stroke="#ff0000" stroke-width="6.2"/>
<path d="M630.8 57.5 H739" fill="none" stroke="#0000ff" stroke-width="6.9" stroke-dasharray="6.8 4.05"/>
<path d="M994 57.4 H1104" fill="none" stroke="#000000" stroke-width="6.85" stroke-dasharray="23 20.4"/>
<g font-family="'Liberation Serif', 'Times New Roman', serif" font-size="58" fill="#000">
<text x="384.6" y="82.9">Method 1</text>
<text x="747.3" y="82.9">Method 2</text>
<text x="1110.5" y="82.9">reference</text>
</g>
<text x="806.7" y="1136.3" text-anchor="middle" letter-spacing="0.48" font-family="'Liberation Serif', 'Times New Roman', serif" font-size="47" fill="#262626">time /s</text>
<g fill="#262626">
<text transform="translate(100.2 321.5) rotate(-90) skewX(-13.4) scale(1.15 1.04)" font-family="'Liberation Serif', 'Times New Roman', serif" font-size="46" font-style="italic">ϕ</text>
<text transform="translate(98.6 278) rotate(-90)" font-family="'Liberation Serif', 'Times New Roman', serif" font-size="53" stroke="#fff" stroke-width="0.55">/</text>
<text transform="translate(96.7 265.2) rotate(-90)" font-family="'Liberation Serif', 'Times New Roman', serif" font-size="46.5" stroke="#fff" stroke-width="0.55">°</text>
<text transform="translate(75.2 862) rotate(-90) skewX(-12.5) scale(0.95 1.05)" font-family="'Liberation Serif', 'Times New Roman', serif" font-size="50" font-style="italic">ψ</text>
<text transform="translate(74.6 817) rotate(-90)" font-family="'Liberation Serif', 'Times New Roman', serif" font-size="53" stroke="#fff" stroke-width="0.55">/</text>
<text transform="translate(73.2 803.4) rotate(-90)" font-family="'Liberation Serif', 'Times New Roman', serif" font-size="46.5" stroke="#fff" stroke-width="0.55">°</text>
</g>
</svg>
</body></html>
